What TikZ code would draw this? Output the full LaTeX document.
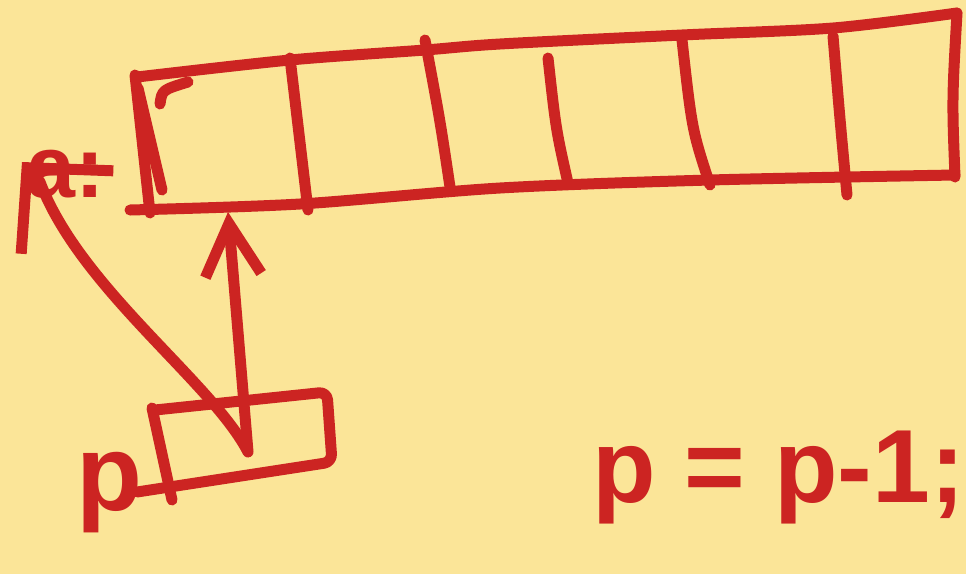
\documentclass[tikz,border=0pt]{standalone}
\usepackage{fontspec}
\setmainfont{Liberation Sans}
\usetikzlibrary{arrows.meta}
\definecolor{paper}{RGB}{251,229,152}
\definecolor{marker}{RGB}{204,36,34}
\begin{document}
\begin{tikzpicture}[x=1pt,y=-1pt,
  ink/.style={draw=marker,line width=11pt,line cap=round,line join=round},
  lbl/.style={text=marker,inner sep=0pt},
  ptrup/.style={ink,-{Straight Barb[length=52pt,width=56pt]}},
  ptrback/.style={ink,-{Straight Barb[length=60pt,width=124pt]}}]
\fill[paper] (0,0) rectangle (966,574);
\useasboundingbox (0,0) rectangle (966,574);
% array a
\draw[ink] plot[smooth] coordinates {(137,77) (290,60) (425,50) (500,44) (682,35) (833,28) (957,13)};
\draw[ink] plot[smooth] coordinates {(130,210) (300,204) (500,188) (710,180) (955,175)};
\draw[ink] (135,75) -- (150,213);
\draw[ink] (138,88) -- (162,190);
\draw[ink] (160,104) .. controls (162,90) .. (188,82);
\draw[ink] (290,58) -- (308,210);
\draw[ink] (425,40) .. controls (440,120) .. (450,187);
\draw[ink] (548,58) .. controls (556,130) .. (568,183);
\draw[ink] (682,40) .. controls (692,130) .. (710,185);
\draw[ink] (833,36) .. controls (840,120) .. (847,195);
\draw[ink] (957,13) .. controls (952,100) .. (955,177);
% label a:
\node[lbl,font=\bfseries\fontsize{88}{88}\selectfont,anchor=base west] (alabel) at (26,197) {a:};
% pointer box p
\draw[ink] (152,408) -- (172,500);
\draw[ink,rounded corners=8pt] (155,410) -- (327,392) -- (332,462) -- (137,492);
\node[lbl,font=\bfseries\fontsize{108}{108}\selectfont,anchor=base west] (plabel) at (76,510) {p};
\coordinate (pval) at (248,452);
\coordinate (cell0) at (228,212);
\coordinate (bend) at (40,182);
\coordinate (atip) at (22,162);
\draw[ptrup] (pval) -- (cell0);
\draw[ptrback] (pval) .. controls (212,382) and (80,288) .. (bend) -- (atip);
% statement
\node[lbl,font=\bfseries\fontsize{104}{104}\selectfont,anchor=base east] (stmt) at (965,502) {p = p-1;};
\end{tikzpicture}
\end{document}
